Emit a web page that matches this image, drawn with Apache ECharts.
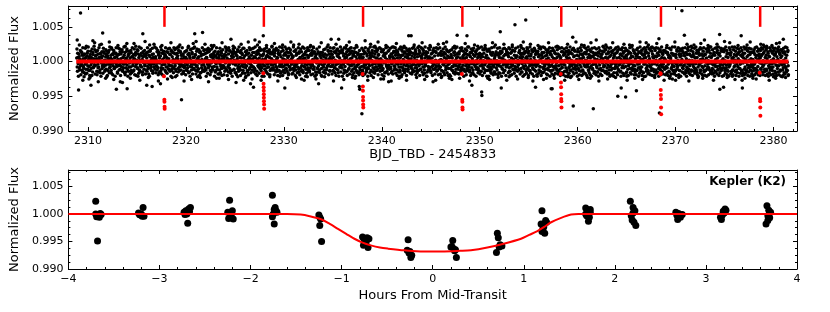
<!DOCTYPE html>
<html><head><meta charset="utf-8">
<script src="https://cdn.jsdelivr.net/npm/echarts@6/dist/echarts.min.js"></script>
<style>html,body{margin:0;padding:0;background:#fff}#c{width:830px;height:312px}</style>
</head><body><div id="c"></div>
<script>
// ---------- top panel: K2 light curve ----------
const lcStart = 2308.85;     // BJD_TBD - 2454833 of first sample
const lcCadence = 0.05;      // days between samples in one set
const lcOffset2 = 0.025;     // second, interleaved set of samples
// flux deviations from 1 in units of 1e-4, one row per day (20 samples)
const lcRows = [
[5,-8,12,-3,0,7,-12,3,-6,14,-1,9,-15,4,-9,2,11,-4,-18,6],
[-2,8,-11,15,3,-7,1,-13,10,-5,6,-20,2,13,-9,4,-1,17,-6,0],
[9,-14,3,-4,11,-8,6,1,-16,12,-2,5,-10,8,-3,14,-7,2,-12,7],
[-5,10,-1,6,-13,4,16,-9,0,-4,9,-17,3,11,-6,-2,13,-10,5,-8],
[12,-3,7,-15,2,-6,10,-1,18,-11,4,-7,0,14,-12,6,-4,9,-2,-19],
[3,-9,15,-5,1,8,-14,11,-2,5,-8,13,-16,0,7,-3,10,-12,4,-1],
[-7,12,-4,2,-10,16,-1,6,-13,9,-5,1,12,-8,3,-15,7,-2,11,-6],
[8,-1,-12,5,13,-7,0,-18,9,-4,15,-9,2,-3,10,-14,6,1,-8,4],
[-11,7,3,-6,14,-2,-9,11,-16,5,0,8,-13,17,-5,2,-10,12,-3,6],
[-4,9,-15,1,6,-8,13,-2,4,-11,10,-6,0,15,-13,7,-1,3,-9,12],
[2,-6,11,-14,5,-1,8,-10,16,-3,0,-7,13,-12,4,9,-5,1,-17,7],
[-9,14,-2,6,-12,3,-5,10,-1,12,-15,5,-7,2,18,-8,11,-4,0,-11],
[6,-3,9,-13,1,15,-6,4,-10,7,-2,13,-16,0,8,-9,3,-14,10,-5],
[-1,11,-8,4,-12,6,17,-4,2,-9,14,-6,1,-13,7,-2,10,-11,5,3],
[13,-7,0,-15,8,-3,5,-11,12,-1,6,-18,9,-4,2,15,-10,4,-6,1],
[-6,3,10,-9,-2,14,-12,5,0,-7,11,-4,16,-14,3,-1,8,-13,6,-3],
[7,-11,2,12,-5,-16,9,-1,4,-10,15,-3,0,-8,13,-12,5,-6,10,-2],
[-13,5,-4,8,1,-9,14,-6,11,-15,3,-2,7,-11,17,-4,0,9,-7,2],
[4,-8,13,-1,-12,6,0,10,-14,3,-6,12,-3,5,-10,16,-7,1,-9,8],
[-3,10,-6,15,-11,2,-1,7,-16,9,-4,13,-8,0,6,-13,11,-2,4,-10],
[11,-5,1,-12,8,-2,16,-7,3,-9,5,-14,12,-1,-6,10,-4,7,-15,0],
[-8,4,-13,9,-1,12,-5,2,-10,14,-3,6,-17,8,1,-7,13,-11,3,-4],
[5,-10,7,-2,15,-6,0,-12,9,-4,11,-8,3,-15,12,-1,6,-9,2,14],
[-2,8,-14,4,-7,10,-3,13,-11,1,-5,16,-9,6,-1,-13,9,-4,11,-6],
[9,-4,3,-11,12,-8,1,6,-15,10,-2,4,-9,14,-6,0,-12,8,-3,5],
[-10,13,-5,2,-8,7,-16,11,-1,5,-12,9,0,-6,15,-3,4,-14,7,-1],
[3,-7,10,-13,6,-1,14,-9,2,-5,12,-11,8,-3,-16,11,-2,5,-8,13],
[-5,1,-9,16,-4,8,-12,3,-7,11,-1,6,-14,9,-3,2,-10,15,-6,4],
[12,-6,5,-2,-11,9,-4,14,-8,0,7,-13,3,-5,10,-1,-15,6,-9,2],
[-1,10,-7,3,-14,6,11,-3,-9,13,-5,1,-12,8,-2,16,-10,4,-6,9],
[6,-13,2,-5,12,-9,0,7,-15,11,-3,5,-8,14,-1,-11,9,-4,3,-7],
[-9,4,14,-6,1,-12,8,-2,10,-16,6,-1,12,-7,3,-10,15,-5,0,8],
[2,-8,11,-3,-14,7,-1,13,-6,4,-10,9,-2,16,-12,5,-4,10,-8,1],
[-12,6,-3,9,-1,15,-9,3,-5,12,-14,7,0,-6,11,-3,8,-11,4,-2],
[10,-2,-7,4,-10,8,-15,12,-4,1,6,-9,14,-5,2,-13,7,-1,11,-6],
[-4,13,-11,0,7,-3,10,-8,16,-2,-12,5,-6,9,-1,12,-15,3,-7,6],
[7,-9,4,-14,11,-1,5,-6,-11,14,-3,8,-10,2,13,-7,0,-12,9,-2],
[-6,2,12,-8,3,-13,9,1,-4,10,-16,6,-2,11,-9,4,-1,15,-5,-10],
[14,-3,6,-10,-1,8,-12,5,0,-7,13,-4,9,-15,2,-6,11,-2,7,-11],
[-7,11,-2,5,-13,1,16,-8,3,-5,9,-11,4,-1,12,-14,6,-3,10,-8],
[1,-5,9,-12,7,-2,13,-9,4,-16,10,-4,0,8,-7,15,-11,2,-3,6],
[-10,8,-1,12,-6,3,-14,10,-3,7,-9,1,17,-5,-12,6,-2,9,-13,4],
[5,-12,3,-4,14,-8,2,-11,9,-1,12,-6,-15,4,7,-3,11,-9,1,-5],
[-3,9,-16,6,-2,11,-7,0,13,-10,4,-5,8,-13,2,10,-4,-8,14,-1],
[11,-4,7,-9,1,-14,12,-3,5,-6,16,-11,3,-1,9,-7,-12,6,-2,8],
[-8,2,-5,13,-11,6,-1,10,-15,4,-3,12,-7,1,-10,14,-2,5,-13,7],
[4,-10,12,-2,8,-6,-13,3,11,-4,0,-9,15,-5,6,-12,2,10,-7,-1],
[-5,14,-3,7,-12,1,9,-8,4,-15,11,-2,6,-10,13,-3,-6,8,-11,3],
[9,-1,-10,5,-4,13,-7,2,-14,10,-5,7,-1,-12,4,15,-9,3,-6,11],
[-2,6,-13,11,-6,0,8,-11,3,-4,14,-8,1,-16,9,-1,12,-5,2,-9],
[7,-15,4,-1,10,-9,5,-3,13,-12,2,-6,11,-2,-10,7,-4,16,-8,0],
[-11,3,-6,14,-2,8,-13,1,-5,11,-8,4,-1,9,-14,6,-3,12,-7,2],
[13,-8,1,-4,6,-12,10,-2,-9,5,15,-6,0,-11,7,-3,9,-14,4,-1],
[-4,10,-7,3,-15,8,-1,12,-5,2,-10,6,-13,11,-2,4,-8,14,-6,0],
[6,-2,11,-9,2,-5,14,-12,7,-1,-7,9,-4,13,-10,1,5,-16,8,-3],
[-9,12,-3,5,-8,16,-11,0,6,-4,10,-14,3,-1,8,-6,12,-9,-2,4],
[2,-7,9,-15,4,-2,11,-6,1,13,-10,5,-3,8,-12,0,7,-5,15,-11],
[-6,4,-12,8,-1,10,-4,-9,14,-3,6,-11,2,12,-8,3,-15,9,-1,5],
[10,-3,6,-10,13,-6,1,-13,8,-2,4,-7,16,-9,0,-4,11,-12,5,-1],
[-3,8,-14,2,7,-5,12,-1,-10,9,-6,3,-12,14,-2,6,-8,10,-4,1],
[5,-11,3,13,-7,0,-9,11,-4,6,-15,8,-1,4,-10,12,-3,-6,9,-13],
[-7,9,-2,-12,6,-4,15,-8,2,-1,10,-13,7,-5,11,-2,3,-9,14,-6],
[12,-5,8,-1,-13,4,-8,10,-3,16,-11,2,-6,9,-1,-14,7,1,-4,10],
[-1,7,-10,5,-3,12,-15,6,0,-8,13,-4,9,-12,3,-2,11,-7,4,-9],
[8,-13,2,-6,10,-1,5,-11,14,-4,1,-9,7,-2,12,-15,6,-3,-10,9],
[-5,11,-4,9,-14,3,-2,13,-7,5,-12,10,-1,-6,8,-3,16,-11,2,-5],
[4,-9,14,-3,1,-10,7,-5,11,-13,6,-2,-8,12,-4,9,-1,-14,5,3],
[-12,6,-1,10,-6,2,-15,8,-3,11,-7,4,13,-10,1,-4,9,-2,-13,7],
[9,-2,5,-11,12,-8,3,-1,-14,7,-5,15,-9,2,-6,10,-12,4,-3,13],
[-6,3,-9,13,-4,10,-1,6,-12,1,9,-7,3,-15,11,-2,5,-10,8,-3],
[10,-7,1,-5,14,-11,6,-2,9,-13,4,-1,12,-6,-9,7,-3,16,-8,2],
[-3,12,-8,4,-2,9,-14,11,-5,1,7,-10,3,15,-6,-1,10,-12,6,-4],
[8,-5,13,-9,2,-3,11,-7,5,-12,9,-1,14,-6]
];
// interleaved samples (starting lcStart + lcOffset2), same units
const lcRows2 = [
[18,-14,6,-21,11,-9,2,16,-19,-4,13,-12,20,-7,9,-16,4,19,-11,-1],
[-17,12,-6,21,-13,7,-20,3,15,-10,-2,18,-15,10,-8,22,-5,-18,8,14],
[4,-19,16,-9,-15,20,1,-12,11,-21,7,14,-6,-17,19,-3,12,-14,2,17],
[-11,15,-20,8,13,-4,-16,21,-8,5,-13,18,-1,-19,10,16,-10,6,-21,12],
[20,-7,9,-17,3,19,-12,-5,14,-20,11,-2,17,-14,6,-9,21,-16,13,-3],
[-15,5,18,-11,-21,10,15,-8,1,-18,16,-13,7,20,-6,-14,3,18,-19,9],
[13,-20,-3,17,-9,11,-17,21,-12,2,-7,19,-15,8,-19,14,-1,-11,16,-5],
[-18,9,12,-14,20,-2,-10,15,-21,7,17,-6,-13,4,19,-17,11,-8,-3,21],
[6,-16,19,-7,-12,16,-19,9,13,-2,-15,21,-9,-18,12,3,-20,15,-4,10],
[-13,20,-8,14,-17,1,18,-11,-5,19,-14,10,-21,16,-6,-10,13,-16,20,-2],
[17,-11,-2,19,-20,12,4,-15,21,-8,-13,15,-4,9,-18,20,-7,11,-14,5],
[-6,14,-19,3,16,-13,-9,20,-16,10,8,-21,17,-3,-12,13,-18,6,19,-10],
[21,-4,10,-18,-7,18,-14,5,-11,17,-20,2,14,-16,11,-5,20,-12,-1,16],
[-14,17,-10,12,-21,6,13,-17,19,-6,-3,16,-19,9,-15,18,-8,21,-12,7],
[10,-21,15,-2,-13,20,-8,11,-18,14,4,-12,19,-16,-7,12,-20,8,17,-9],
[-19,7,-14,21,9,-11,17,-20,3,-15,20,-5,-10,15,-17,1,13,-21,11,18],
[15,-12,20,-16,-4,13,-19,8,17,-7,-14,21,-11,6,-20,16,-2,12,-17,19],
[-8,19,-3,-17,14,-21,10,16,-13,2,-19,12,20,-9,4,-16,18,-6,-12,13],
[19,-15,7,-10,21,-18,-1,14,-20,11,16,-8,-17,20,-4,9,-13,17,-21,3],
[-16,11,-21,18,-6,4,-14,20,-9,15,-18,7,-2,17,-19,13,-11,-5,21,-12],
[14,-9,17,-19,12,-3,-15,19,-12,6,-20,16,10,-13,21,-7,-17,14,-4,20],
[-20,16,-7,3,-16,21,-11,9,18,-14,-5,13,-19,19,-8,-12,17,-2,10,-18],
[8,-17,21,-13,-9,15,-20,17,-4,12,-16,-1,20,-11,14,-19,5,18,-14,-6],
[-12,21,-16,10,19,-8,5,-21,15,-17,9,20,-13,-3,16,-15,21,-9,-19,12],
[16,-6,-18,20,-11,14,-21,7,11,-19,18,-10,-15,12,-2,21,-16,9,13,-20],
[-21,13,9,-15,17,-4,-12,18,-17,3,-9,21,-6,16,-19,11,-13,20,-7,15],
[11,-18,-5,19,-14,20,-9,-16,13,-20,16,-3,18,-12,7,-21,15,-8,21,-15],
[-9,17,-21,12,-3,-17,20,-13,6,19,-15,14,-20,-2,17,-11,10,-18,19,-5],
[20,-14,15,-19,8,11,-16,19,-10,-21,13,-7,21,-16,12,-4,-19,16,-12,9],
[-17,6,19,-12,-20,16,-6,14,-18,20,2,-15,11,-9,-21,18,-3,13,-16,21],
[12,-20,8,16,-15,-3,21,-11,-17,15,-8,19,-13,5,17,-19,10,-6,20,-14],
[-4,18,-13,-19,14,-10,17,-21,9,12,-16,20,-5,-14,21,-8,-18,16,-11,6],
[19,-10,-16,11,21,-18,4,15,-12,-7,20,-17,13,-3,-20,14,9,-15,18,-21],
[-15,21,-8,17,-19,9,-13,20,-2,-16,14,-11,19,-20,6,16,-14,-7,12,18],
[15,-17,13,-6,-18,19,-12,-4,21,-14,10,17,-19,11,-9,-16,20,-3,-13,16],
[-20,8,-11,20,4,-15,18,-19,12,-8,-17,21,-5,14,-21,7,13,-12,19,-9],
[17,-13,21,-16,-8,12,-20,16,-3,19,-11,-18,15,-6,20,-14,-2,18,-19,11],
[-10,20,-18,9,15,-21,11,-14,18,-5,13,-19,21,-12,-7,17,-16,8,-20,14],
[6,-19,16,-21,10,17,-7,-13,20,-16,-2,14,-18,19,-11,5,21,-17,12,-8],
[-18,14,-4,19,-16,-9,20,-12,7,15,-21,10,-14,18,-6,-19,16,-10,21,-13],
[21,-8,-15,13,-20,18,-3,-17,16,-12,19,-19,8,-5,14,-21,11,17,-9,-16],
[-13,19,10,-18,7,-14,21,-6,-20,17,-10,12,-16,20,-1,-13,18,-21,15,-7],
[16,-21,18,-9,-14,11,-17,20,-4,13,-19,-8,21,-15,9,-18,14,-2,-12,19],
[-19,12,-6,20,-17,15,5,-21,14,-11,18,-16,-3,19,-13,10,-20,17,-7,13],
[9,-16,20,-14,18,-20,-8,13,-19,21,-5,16,-12,-17,15,-10,19,-21,8,-13],
[-14,21,-12,-3,16,-18,12,-10,20,-15,7,-21,18,11,-19,13,-6,15,-17,20],
[18,-9,-20,15,-13,21,-16,8,-5,17,-18,14,-11,-21,19,-4,16,-14,12,-19],
[-21,15,11,-17,19,-7,-14,18,-20,9,13,-16,21,-8,-15,20,-11,-3,17,-18],
[13,-19,17,-12,-6,20,-21,10,15,-13,-18,19,-7,16,-20,4,12,-17,21,-10],
[-12,17,-18,21,-15,9,19,-20,6,-16,20,-9,14,-19,-4,18,-14,11,-21,15],
[20,-12,14,-20,16,-17,-7,21,-13,12,-21,17,-3,-15,19,-18,8,15,-11,-6],
[-16,9,-21,18,-10,14,-19,4,20,-14,16,-20,11,-12,-18,21,-5,13,-17,19],
[11,-20,16,-7,21,-13,-16,17,-19,8,14,-21,19,-10,13,-4,-17,20,-15,12],
[-19,18,-9,-15,13,-21,20,-11,16,-18,7,10,-20,15,-13,21,-6,-14,18,-16],
[17,-14,21,-18,5,12,-17,19,-8,-20,20,-12,15,-19,-2,16,-21,11,-10,18],
[-7,20,-16,13,-19,21,-13,-5,18,-15,11,-21,17,-9,20,-17,14,-20,6,15],
[19,-17,8,-21,16,-11,-20,14,-3,20,-16,12,-18,21,-9,-13,17,-6,-19,12],
[-15,11,-19,17,-13,19,6,-21,13,-17,21,-8,-14,16,-20,10,18,-16,-4,20],
[14,-21,17,-14,-9,21,-18,12,-16,18,-6,-19,20,-13,15,-20,7,-11,19,-15],
[-20,16,-12,20,-17,8,-15,19,-21,14,-10,17,-19,-5,21,-14,12,-18,16,-9],
[16,-10,-19,14,20,-16,13,-20,9,-14,19,-21,6,17,-18,-8,21,-13,11,-17],
[-18,21,-14,10,-20,17,-11,-6,20,-19,15,-13,18,-21,8,16,-15,19,-10,-16],
[9,-18,20,-16,13,-21,-9,18,-14,21,-17,11,-4,-19,16,-12,20,-20,14,-7],
[-14,19,-17,-10,21,-12,16,-19,12,-21,17,-5,-16,20,-13,18,-18,9,-20,15],
[20,-15,11,-20,-13,18,-21,14,-8,19,-19,16,-12,21,-17,7,-14,-18,17,-11],
[-17,13,-21,19,-7,-15,20,-18,16,-11,21,-20,12,-16,-9,19,-13,15,-21,18],
[15,-20,18,-13,-17,21,-9,16,-19,12,-14,-21,20,-6,17,-18,13,-15,21,-12],
[-19,17,-8,21,-14,15,-20,-12,19,-16,11,18,-21,14,-10,-17,20,-13,16,-20],
[12,-16,21,-19,18,-11,-17,20,-13,16,-20,9,-15,19,-21,13,-8,18,-18,-14],
[-21,14,-13,17,-19,20,-10,-16,21,-12,15,-19,18,-17,7,-20,16,-11,20,-15],
[18,-19,12,-15,21,-14,-20,17,-11,19,-18,14,-21,8,-16,20,-12,-19,15,-9],
[-13,20,-18,16,-21,11,19,-17,14,-20,-6,18,-15,21,-19,12,-14,17,-21,16],
[17,-12,-20,19,-16,14,-18,21,-9,-15,20,-13,16,-19]
];
// points at the ragged edges of the band: [time, deviation 1e-4]
const lcWings = [
[2309.12,24],[2309.47,-27],[2309.83,22],[2310.21,-23],[2310.68,27],[2311.05,-29],[2311.37,25],[2311.92,-22],[2312.18,28],[2312.63,-26],
[2313.06,23],[2313.52,-30],[2313.97,26],[2314.33,-24],[2314.88,22],[2315.29,-27],[2315.83,29],[2316.17,-23],[2316.74,25],[2317.19,-28],
[2317.55,23],[2318.12,-25],[2318.47,27],[2318.93,-22],[2319.38,24],[2319.81,-28],[2320.26,22],[2320.58,-26],[2321.04,29],[2321.47,-23],
[2321.95,25],[2322.31,-29],[2322.86,23],[2323.13,-24],[2323.69,27],[2324.35,-26],[2324.83,22],[2325.12,-30],[2325.64,25],[2326.08,-23],
[2326.37,28],[2326.75,-25],[2327.31,24],[2327.68,-27],[2328.23,23],[2328.56,-22],[2329.04,26],[2329.39,-28],[2329.87,24],[2330.36,-24],
[2330.72,28],[2331.28,-23],[2331.55,25],[2332.07,-27],[2332.73,23],[2333.28,-25],[2333.82,27],[2334.16,-22],[2334.52,24],[2335.07,-28],
[2335.33,25],[2336.12,-26],[2336.68,28],[2337.26,-24],[2337.41,23],[2338.57,-27],[2338.86,25],[2339.14,-23],[2339.62,28],[2340.18,-25],
[2340.43,23],[2340.96,-28],[2341.49,26],[2341.77,-24],[2342.28,22],[2342.53,-27],[2343.31,24],[2343.56,-23],[2344.12,27],[2344.38,-26],
[2344.93,23],[2345.24,-29],[2345.77,25],[2346.08,-23],[2346.62,28],[2347.16,-26],[2347.43,22],[2347.95,-24],[2348.52,26],[2348.96,-28],
[2349.47,24],[2350.56,23],[2350.83,-24],[2351.31,27],[2351.88,-23],[2352.47,25],[2352.76,-27],[2353.33,24],[2353.87,-25],[2354.45,28],
[2354.96,-23],[2355.18,25],[2355.43,-28],[2355.96,23],[2356.52,-26],[2357.03,27],[2357.62,-24],[2357.91,22],[2358.68,-27],[2358.97,25],
[2359.27,-23],[2359.83,28],[2360.12,-26],[2360.67,23],[2361.28,-24],[2361.36,27],[2362.17,-28],[2362.88,24],[2363.06,-25],[2363.58,27],
[2363.87,-23],[2364.73,25],[2365.06,-27],[2365.57,23],[2365.84,-24],[2366.37,28],[2366.63,-26],[2367.23,24],[2367.87,-23],[2368.08,26],
[2368.83,-27],[2369.12,23],[2369.67,-25],[2369.93,28],[2370.33,-23],[2371.17,25],[2371.36,-28],[2371.88,24],[2372.58,26],[2372.77,-24],
[2373.32,23],[2373.87,-27],[2374.23,25],[2375.27,-23],[2375.53,27],[2376.07,-26],[2376.38,23],[2377.08,-24],[2377.62,28],[2378.23,-25],
[2378.97,24],[2379.56,-27],[2379.84,23],[2380.22,-24],[2380.62,27],[2381.23,-23]
];
// individually read points away from the dense band: [time, deviation 1e-4]
const lcOutliers = [
[2308.9,31],[2309.04,-41],[2309.24,70],[2309.6,-22],[2310.1,-25],[2310.3,-34],[2310.5,30],[2311.2,24],[2311.5,41],[2311.8,-24],
[2312.4,20],[2312.9,-40],[2313.3,-29],[2313.8,22],[2314.0,-39],[2314.7,26],[2315.1,-21],[2315.6,40],[2316.0,-34],[2316.3,24],
[2316.55,-36],[2317.4,-32],[2318.6,-23],[2319.2,21],[2319.55,-55],[2320.75,26],[2320.9,40],[2321.2,-22],[2321.7,42],[2322.6,23],
[2323.4,-24],[2324.1,20],[2324.6,32],[2325.3,-22],[2325.9,-27],[2326.6,-32],[2326.9,-37],[2327.05,31],[2327.5,28],[2327.9,37],
[2328.8,22],[2329.6,-21],[2330.1,-38],[2331.0,24],[2331.8,-25],[2332.4,-22],[2333.0,21],[2333.55,-32],[2334.83,32],[2335.6,32],
[2335.9,-38],[2336.4,23],[2337.0,-23],[2337.7,-36],[2337.75,-40],[2337.97,-75],[2338.3,30],[2339.3,22],[2339.9,-25],[2340.7,-29],
[2341.2,21],[2342.0,-22],[2342.75,37],[2343.0,37],[2343.8,22],[2344.6,-21],[2345.5,-27],[2346.3,26],[2346.9,-24],[2347.7,38],
[2348.7,37],[2349.2,-34],[2349.8,22],[2350.2,-44],[2350.22,-49],[2351.0,-26],[2351.6,24],[2352.1,43],[2352.2,-38],[2353.0,-22],
[2353.6,53],[2354.2,23],[2354.7,60],[2355.7,-37],[2356.2,21],[2356.8,-24],[2357.3,-39],[2357.4,-39],[2359.0,-22],[2359.5,35],
[2359.55,-64],[2360.4,24],[2361.0,-23],[2361.6,-68],[2361.9,31],[2362.6,22],[2363.3,-21],[2364.1,-50],[2364.45,-38],[2364.9,-51],
[2365.3,24],[2366.0,-42],[2366.8,-22],[2367.0,27],[2367.6,21],[2368.3,33],[2368.35,-74],[2369.4,-24],[2370.0,-27],[2370.65,73],
[2370.9,38],[2371.6,22],[2372.3,-23],[2372.95,31],[2373.6,21],[2374.5,39],[2374.52,-40],[2374.9,-37],[2375.0,29],[2375.8,-21],
[2376.7,37],[2376.8,-27],[2376.82,-38],[2377.3,24],[2377.9,-24],[2378.7,25],[2379.3,22],[2380.0,-22],[2380.3,26],[2380.9,-22],
[2381.0,32],[2381.5,-20]
];
const transitTimes = [2317.81, 2327.96, 2338.09, 2348.23, 2358.33, 2368.51, 2378.64];
const markerRange = [1.005, 1.008];
// in-transit model flux per transit: [time offset (d), flux]
const transitModel = [
[[-0.05,0.9979],[-0.01,0.9945],[0,0.9942],[0.01,0.9935],[0.02,0.9932]],
[[-0.05,0.9983],[-0.03,0.9968],[-0.02,0.9963],[-0.01,0.9958],[0,0.9953],[0,0.9948],[0.01,0.9943],[0.02,0.9938],[0.03,0.9932]],
[[-0.05,0.9982],[-0.02,0.9964],[-0.01,0.9958],[0,0.9949],[0,0.9944],[0.01,0.9938],[0.02,0.9934]],
[[-0.05,0.9982],[-0.01,0.9945],[0,0.9942],[0.01,0.9934],[0.02,0.9931]],
[[-0.05,0.9982],[-0.03,0.9970],[-0.02,0.9963],[-0.01,0.9953],[0,0.9946],[0.01,0.9943],[0.02,0.9934]],
[[-0.05,0.9983],[-0.04,0.9982],[-0.02,0.9959],[-0.01,0.9952],[0,0.9946],[0.01,0.9934],[0.02,0.9924]],
[[-0.05,0.9984],[-0.01,0.9946],[0,0.9943],[0.01,0.9934],[0.02,0.9922]]
];
const baselineModel = [[2308.8, 1.0], [2381.53, 1.0]];
const topXTicks = [2310, 2320, 2330, 2340, 2350, 2360, 2370, 2380];
const yTicks = [0.990, 0.995, 1.000, 1.005];

// ---------- bottom panel: phase-folded transit ----------
const foldedData = [
[-3.70,1.0023],[-3.68,0.9951],[-3.70,1.0000],[-3.67,0.9997],[-3.65,1.0001],[-3.66,0.9994],[-3.69,0.9995],[-3.64,0.9999],
[-3.23,1.0002],[-3.21,0.9998],[-3.19,0.9996],[-3.18,1.0012],[-3.17,0.9996],[-3.20,1.0000],[-3.22,0.9999],
[-2.73,1.0003],[-2.71,1.0006],[-2.70,1.0000],[-2.69,0.9983],[-2.68,1.0009],[-2.66,1.0012],[-2.67,1.0004],[-2.72,0.9999],
[-2.23,1.0025],[-2.20,1.0006],[-2.25,1.0003],[-2.22,0.9995],[-2.24,0.9992],[-2.19,0.9991],[-2.21,1.0000],
[-1.76,1.0034],[-1.73,1.0012],[-1.75,1.0000],[-1.72,1.0006],[-1.74,0.9982],[-1.76,0.9995],[-1.71,1.0003],[-1.74,1.0008],
[-1.25,0.9998],[-1.23,0.9991],[-1.24,0.9994],[-1.24,0.9979],[-1.22,0.9950],
[-0.77,0.9958],[-0.72,0.9957],[-0.75,0.9952],[-0.73,0.9949],[-0.76,0.9943],[-0.71,0.9939],[-0.74,0.9946],[-0.70,0.9955],
[-0.27,0.9953],[-0.28,0.9934],[-0.26,0.9929],[-0.24,0.9921],[-0.25,0.9932],[-0.23,0.9925],
[0.22,0.9952],[0.20,0.9940],[0.23,0.9937],[0.24,0.9933],[0.26,0.9921],[0.21,0.9941],[0.25,0.9935],
[0.71,0.9965],[0.72,0.9957],[0.74,0.9944],[0.70,0.9930],[0.76,0.9942],[0.73,0.9940],
[1.20,1.0006],[1.19,0.9982],[1.24,0.9988],[1.21,0.9973],[1.23,0.9965],[1.25,0.9985],[1.22,0.9977],[1.20,0.9968],
[1.68,1.0011],[1.70,1.0006],[1.73,1.0003],[1.69,0.9997],[1.72,0.9994],[1.71,0.9987],[1.68,1.0000],[1.73,1.0008],
[2.17,1.0023],[2.20,1.0012],[2.22,1.0006],[2.18,0.9997],[2.19,0.9989],[2.21,0.9985],[2.23,0.9979],[2.20,1.0002],
[2.67,1.0003],[2.70,1.0001],[2.72,0.9994],[2.69,0.9990],[2.71,0.9997],[2.74,0.9999],[2.68,0.9998],
[3.21,1.0009],[3.19,1.0005],[3.16,0.9994],[3.17,0.9990],[3.18,0.9998],[3.20,1.0002],[3.22,1.0007],
[3.67,1.0015],[3.69,1.0007],[3.71,1.0003],[3.68,0.9997],[3.70,0.9993],[3.68,0.9988],[3.66,0.9982]
];
const foldedModel = [
[-4,1.0],[-1.6,1.0],[-1.45,0.9999],[-1.35,0.9996],[-1.22,0.9990],[-1.13,0.9982],[-1.04,0.9973],[-0.95,0.9964],
[-0.86,0.9955],[-0.77,0.9948],[-0.68,0.9943],[-0.58,0.9939],[-0.49,0.9937],[-0.31,0.9934],[-0.1,0.9932],
[0.1,0.9932],[0.3,0.9933],[0.42,0.9934],[0.6,0.9939],[0.78,0.9946],[0.97,0.9955],[1.06,0.9962],[1.15,0.9969],
[1.22,0.9976],[1.3,0.9985],[1.41,0.9993],[1.52,0.9999],[1.6,1.0],[4,1.0]
];
const bottomXTicks = [-4, -3, -2, -1, 0, 1, 2, 3, 4];
const panelLabel = 'Kepler (K2)';

// ---------- build ----------
const lcPoints = [];
lcRows.forEach((row, i) => row.forEach((v, j) => {
  lcPoints.push([lcStart + (i * 20 + j) * lcCadence, 1 + v * 1e-4]);
}));
lcRows2.forEach((row, i) => row.forEach((v, j) => {
  lcPoints.push([lcStart + lcOffset2 + (i * 20 + j) * lcCadence, 1 + v * 1e-4]);
}));
lcWings.concat(lcOutliers).forEach(p => lcPoints.push([p[0], 1 + p[1] * 1e-4]));
const transitPoints = [];
transitModel.forEach((arr, k) => arr.forEach(p => transitPoints.push([transitTimes[k] + p[0], p[1]])));

const FONT = 'DejaVu Sans';
const near = (a, b) => Math.abs(a - b) < 1e-7;
const yLabel = v => yTicks.some(t => near(t, v)) ? v.toFixed(3) : '';
const hidden = {show: false, onZero: false};

function xAxes(grid, min, max, majorInterval, minorInterval, fmt, name, nameGap) {
  const base = {gridIndex: grid, type: 'value', min, max, splitLine: {show: false}};
  const major = Object.assign({}, base, majorInterval ? {interval: majorInterval} : {splitNumber: 7});
  return [
    Object.assign({}, major, {position: 'bottom', name, nameLocation: 'middle', nameGap,
      nameTextStyle: {fontFamily: FONT, fontSize: 13, color: '#000'},
      axisLine: {show: true, onZero: false, lineStyle: {color: '#000', width: 1}},
      axisTick: {show: true, inside: true, length: 4, lineStyle: {color: '#000'}},
      axisLabel: {show: true, margin: 5, fontFamily: FONT, fontSize: 11, color: '#000', formatter: fmt}}),
    Object.assign({}, base, {interval: minorInterval, position: 'bottom',
      axisLine: hidden, axisTick: {show: true, inside: true, length: 2, lineStyle: {color: '#000'}},
      axisLabel: {show: false}}),
    Object.assign({}, major, {position: 'top',
      axisLine: {show: true, onZero: false, lineStyle: {color: '#000', width: 1}},
      axisTick: {show: true, inside: true, length: 4, lineStyle: {color: '#000'}}, axisLabel: {show: false}}),
    Object.assign({}, base, {interval: minorInterval, position: 'top',
      axisLine: hidden, axisTick: {show: true, inside: true, length: 2, lineStyle: {color: '#000'}},
      axisLabel: {show: false}})
  ];
}
function yAxes(grid) {
  const base = {gridIndex: grid, type: 'value', min: 0.990, max: 1.008, splitLine: {show: false}};
  return [
    Object.assign({}, base, {interval: 0.005, position: 'left', name: 'Normalized Flux', nameLocation: 'middle', nameGap: 38,
      nameTextStyle: {fontFamily: FONT, fontSize: 13, color: '#000'},
      axisLine: {show: true, onZero: false, lineStyle: {color: '#000', width: 1}},
      axisTick: {show: true, inside: true, length: 4, lineStyle: {color: '#000'}},
      axisLabel: {show: true, margin: 5, fontFamily: FONT, fontSize: 11, color: '#000', formatter: yLabel}}),
    Object.assign({}, base, {interval: 0.00125, position: 'left', axisLine: hidden,
      axisTick: {show: true, inside: true, length: 2, lineStyle: {color: '#000'}}, axisLabel: {show: false}}),
    Object.assign({}, base, {interval: 0.005, position: 'right',
      axisLine: {show: true, onZero: false, lineStyle: {color: '#000', width: 1}},
      axisTick: {show: true, inside: true, length: 4, lineStyle: {color: '#000'}}, axisLabel: {show: false}}),
    Object.assign({}, base, {interval: 0.00125, position: 'right', axisLine: hidden,
      axisTick: {show: true, inside: true, length: 2, lineStyle: {color: '#000'}}, axisLabel: {show: false}})
  ];
}

const topFmt = v => topXTicks.some(t => near(t, v)) ? String(Math.round(v)) : '';
const botFmt = v => bottomXTicks.some(t => near(t, v)) ? String(Math.round(v)).replace('-', '\u2212') : '';

const option = {
  animation: false,
  backgroundColor: '#fff',
  textStyle: {fontFamily: FONT},
  title: {text: panelLabel, right: 44, top: 176, padding: 0,
    textStyle: {fontFamily: FONT, fontSize: 12, fontWeight: 'bold', color: '#000'}},
  grid: [
    {left: 67, top: 6, width: 730, height: 125},
    {left: 67, top: 170, width: 730, height: 99}
  ],
  xAxis: [].concat(
    xAxes(0, 2308, 2382.4, null, 2, topFmt, 'BJD_TBD - 2454833', 14),
    xAxes(1, -4, 4, 1, 0.2, botFmt, 'Hours From Mid-Transit', 20)
  ),
  yAxis: [].concat(yAxes(0), yAxes(1)),
  series: [
    {type: 'scatter', xAxisIndex: 0, yAxisIndex: 0, data: lcPoints, symbol: 'circle', symbolSize: 3.5,
      itemStyle: {color: '#000', opacity: 1}, silent: true, progressive: 0, large: false},
    {type: 'line', xAxisIndex: 0, yAxisIndex: 0, data: baselineModel, symbol: 'none',
      lineStyle: {color: '#ff0000', width: 4}, silent: true},
    {type: 'scatter', xAxisIndex: 0, yAxisIndex: 0, data: transitPoints, symbol: 'circle', symbolSize: 4,
      itemStyle: {color: '#ff0000', opacity: 1}, silent: true},
    {type: 'custom', xAxisIndex: 0, yAxisIndex: 0, data: transitTimes.map(t => [t, markerRange[1]]), silent: true,
      renderItem: (params, api) => {
        const t = api.value(0);
        const a = api.coord([t, markerRange[0]]);
        const b = api.coord([t, markerRange[1]]);
        return {type: 'line', shape: {x1: a[0], y1: a[1], x2: b[0], y2: b[1]}, style: {stroke: '#ff0000', lineWidth: 2.5}};
      }},
    {type: 'scatter', xAxisIndex: 4, yAxisIndex: 4, data: foldedData, symbol: 'circle', symbolSize: 7,
      itemStyle: {color: '#000', opacity: 1}, silent: true},
    {type: 'line', xAxisIndex: 4, yAxisIndex: 4, data: foldedModel, symbol: 'none', smooth: 0.3,
      lineStyle: {color: '#ff0000', width: 2}, silent: true}
  ]
};
const chart = echarts.init(document.getElementById('c'), null, {renderer: 'canvas'});
chart.setOption(option);
</script>
</body></html>
